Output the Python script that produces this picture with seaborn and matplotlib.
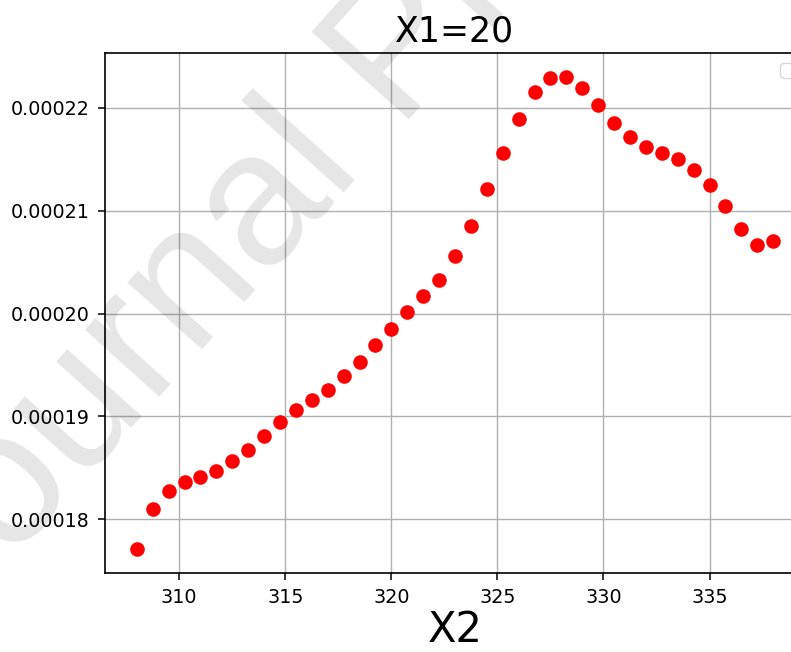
import matplotlib

matplotlib.use("Agg")
import matplotlib.pyplot as plt
import pandas as pd
import seaborn as sns
from matplotlib.ticker import FormatStrFormatter

title = "X1=20"
x_label = "X2"
watermark = "Journal Pre-proof"

x2 = [
    308.00, 308.75, 309.50, 310.25, 311.00, 311.75, 312.50, 313.25, 314.00, 314.75,
    315.50, 316.25, 317.00, 317.75, 318.50, 319.25, 320.00, 320.75, 321.50, 322.25,
    323.00, 323.75, 324.50, 325.25, 326.00, 326.75, 327.50, 328.25, 329.00, 329.75,
    330.50, 331.25, 332.00, 332.75, 333.50, 334.25, 335.00, 335.75, 336.50, 337.25,
    338.00,
]
value = [
    0.00017707, 0.00018099, 0.00018277, 0.00018362, 0.00018406, 0.00018471,
    0.00018568, 0.00018675, 0.00018811, 0.00018950, 0.00019061, 0.00019164,
    0.00019261, 0.00019388, 0.00019524, 0.00019693, 0.00019851, 0.00020017,
    0.00020169, 0.00020330, 0.00020564, 0.00020855, 0.00021209, 0.00021565,
    0.00021889, 0.00022155, 0.00022294, 0.00022303, 0.00022196, 0.00022028,
    0.00021853, 0.00021714, 0.00021620, 0.00021565, 0.00021500, 0.00021399,
    0.00021251, 0.00021047, 0.00020826, 0.00020665, 0.00020704,
]


def main() -> None:
    df = pd.DataFrame({"x2": x2, "value": value})

    fig = plt.figure(figsize=(7.91, 6.52), dpi=100)
    # axes run past the right edge, as in the cropped original
    ax = fig.add_axes([105 / 791, 1 - 573 / 652, 700 / 791, 520 / 652])

    sns.scatterplot(data=df, x="x2", y="value", color="red", s=110, linewidth=0, ax=ax, zorder=3)

    ax.grid(True, color="#b0b0b0", linewidth=1.0)
    ax.set_axisbelow(True)
    ax.yaxis.set_major_formatter(FormatStrFormatter("%.5f"))
    ax.tick_params(labelsize=13.8, length=5, width=1.1, pad=6)
    for spine in ax.spines.values():
        spine.set_linewidth(1.2)

    ax.set_title(title, fontsize=25, pad=8)
    ax.set_xlabel(x_label, fontsize=30, labelpad=1)
    ax.set_ylabel("")
    ax.legend(handles=[], loc="upper right", fontsize=14)

    fig.text(
        -0.068, 0.028, watermark,
        fontsize=137, family="Liberation Sans", color="black", alpha=0.1,
        rotation=48, rotation_mode="anchor", ha="left", va="baseline", zorder=10,
    )

    fig.savefig("out.png", dpi=100)
    plt.close(fig)


if __name__ == "__main__":
    main()
